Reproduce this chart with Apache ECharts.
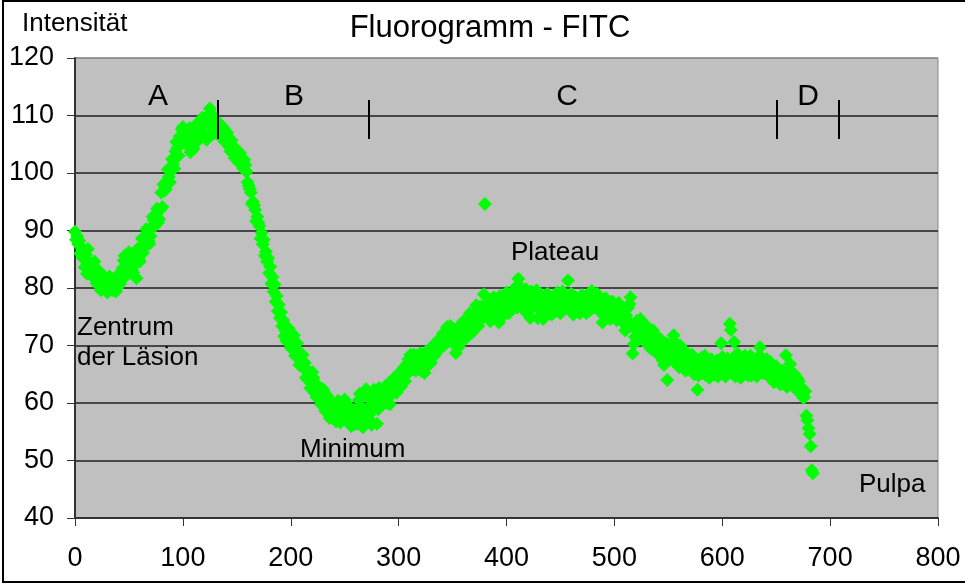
<!DOCTYPE html>
<html>
<head>
<meta charset="utf-8">
<script src="https://cdn.jsdelivr.net/npm/echarts@6/dist/echarts.min.js"></script>
<style>
html,body{margin:0;padding:0;background:#fff;}
#chart{width:965px;height:585px;}
</style>
</head>
<body>
<div id="chart"></div>
<script>
// ---- data ----
var titleText = 'Fluorogramm - FITC';
var yAxisName = 'Intensität';
var xTicks = [0, 100, 200, 300, 400, 500, 600, 700, 800];
var yTicks = [40, 50, 60, 70, 80, 90, 100, 110, 120];

var positions = [
  0,2,4,6,8,10,11,13,15,17,19,21,23,25,27,29,31,33,35,37,39,41,43,45,47,49,51,53,55,57,59,
  61,63,65,67,69,71,73,75,77,79,81,83,85,87,89,91,93,95,97,99,101,103,105,107,109,111,113,115,117,119,
  121,123,125,127,129,131,133,135,137,139,141,143,145,147,149,151,153,155,157,159,161,163,165,167,169,
  171,173,175,177,179,181,183,185,187,189,191,193,195,197,199,201,203,205,207,209,211,213,215,217,219,
  221,223,225,227,229,231,233,235,237,239,241,243,245,247,249,251,253,255,257,259,261,263,265,267,269,
  271,273,275,277,279,281,283,285,287,289,291,293,295,297,299,301,303,305,307,309,311,313,315,317,319,
  321,323,325,327,329,331,333,335,337,339,341,343,345,347,349,351,353,355,357,359,361,363,365,367,369,
  371,373,375,377,379,380,381,383,385,387,389,391,393,395,397,399,401,403,405,407,409,411,413,415,417,419,
  421,423,425,427,429,431,433,435,437,439,441,443,445,447,449,451,453,455,457,459,461,463,465,467,469,
  471,473,475,477,479,481,483,485,487,489,491,493,495,497,499,501,503,505,507,509,511,513,515,517,519,
  521,523,525,527,529,531,533,535,537,539,541,543,545,547,549,551,553,555,557,559,561,563,565,567,569,
  571,573,575,577,579,581,583,585,587,589,591,593,595,597,599,601,603,605,607,608,609,611,613,615,617,619,
  621,623,625,627,629,631,633,635,637,639,641,643,645,647,649,651,653,655,657,659,661,663,665,667,669,
  671,673,675,677,678,679,680,681,682,683,684
];
var intensity = [
  89.8,89.0,88.2,87.0,86.5,85.8,82.5,84.5,82.8,83.5,81.8,82.6,80.5,81.2,79.8,80.9,80.2,81.0,79.6,80.4,80.1,81.3,82.5,84.8,83.6,85.2,84.3,83.1,84.0,81.7,85.0,
  87.3,86.1,88.4,89.5,87.7,90.6,91.8,92.6,91.4,93.6,94.1,96.9,98.6,99.3,100.4,101.5,103.8,104.4,106.4,107.6,105.8,107.1,106.2,103.6,105.5,106.8,107.6,106.5,108.0,108.8,
  106.2,110.0,111.2,109.4,107.5,108.5,107.6,108.2,107.2,105.4,107.0,104.6,105.7,103.4,104.2,102.8,103.5,101.6,102.3,100.2,97.8,96.6,95.0,93.6,92.4,
  90.8,89.6,88.4,86.3,85.2,83.7,81.9,80.6,78.6,77.1,75.8,74.4,72.6,71.3,72.0,70.6,71.8,69.4,68.6,67.8,68.4,67.0,65.8,65.0,63.6,
  64.4,62.4,63.1,61.5,60.8,61.9,59.6,60.4,58.8,60.0,57.6,59.2,58.4,57.0,59.7,58.1,56.8,58.6,57.5,56.3,59.0,60.5,57.9,55.8,58.4,
  61.2,59.5,56.2,62.3,60.3,58.9,61.7,60.8,62.2,60.0,63.3,61.4,64.2,62.8,63.6,65.3,64.0,66.2,65.1,67.6,68.4,66.4,67.8,68.2,66.8,
  65.6,67.3,68.9,66.5,69.4,68.0,70.2,69.1,71.0,70.3,72.1,71.4,73.2,72.0,70.6,71.8,68.7,72.6,71.0,73.4,72.3,74.0,72.8,74.9,73.6,
  75.3,76.1,74.5,75.8,78.9,94.6,77.2,76.4,74.2,76.9,75.4,77.8,74.0,76.6,78.0,75.9,77.3,76.2,79.0,78.4,80.2,81.6,79.5,77.4,78.8,75.6,
  77.9,79.4,76.8,78.2,74.8,77.5,76.2,78.6,77.0,75.8,78.0,76.6,77.8,79.2,76.4,77.6,78.8,76.9,81.3,78.4,76.5,77.7,75.9,78.1,76.8,
  77.9,76.3,78.7,77.3,79.5,76.6,78.2,77.0,75.8,74.0,76.9,77.6,75.4,76.2,77.5,75.1,76.4,74.7,75.9,73.8,75.2,76.6,78.4,68.6,71.5,
  74.3,72.4,73.6,71.2,72.8,70.8,72.2,70.4,71.6,69.6,68.4,70.2,67.4,69.0,64.0,68.2,70.6,71.8,69.4,67.6,70.0,68.4,66.8,68.8,67.2,
  65.8,67.5,66.2,62.3,65.4,67.9,66.0,64.8,67.0,65.6,66.6,64.9,67.4,65.8,70.4,66.2,64.6,67.8,73.8,72.7,66.4,70.6,65.2,67.2,64.4,66.8,
  68.2,65.4,67.6,64.8,66.9,65.6,68.0,69.7,67.2,66.0,67.6,65.4,66.6,64.6,65.8,63.8,65.2,64.2,63.4,68.3,64.0,66.8,63.2,65.0,62.6,
  63.8,61.6,60.9,62.0,57.8,57.0,55.6,54.6,52.5,48.3,47.8
];

// further readings in between, as [position, intensity]
var extraReadings = [
  [1,88.4],[3,87.6],[5,86.0],[7,85.2],[9,83.6],[12,86.8],[14,83.2],[16,82.0],[18,84.6],[20,80.8],
  [22,83.0],[24,79.6],[26,82.2],[28,80.3],[30,79.2],[32,82.0],[34,80.6],[36,81.5],[38,79.4],[40,82.3],
  [42,80.8],[44,83.4],[46,85.6],[48,82.2],[50,86.2],[52,85.6],[54,82.6],[56,85.4],[58,86.8],[60,84.6],
  [62,88.6],[64,87.0],[66,90.2],[68,88.2],[70,89.0],[72,92.4],[74,90.8],[76,93.8],[78,92.0],[80,96.6],
  [82,98.0],[84,97.2],[86,100.6],[88,98.4],[90,102.4],[92,100.8],[94,105.4],[96,103.0],[98,105.2],[100,108.0],
  [102,106.8],[104,104.8],[106,107.8],[108,106.0],[110,104.2],[112,108.4],[114,105.6],[116,107.0],[118,109.6],[120,106.8],
  [122,105.8],[124,108.6],[126,110.4],[128,106.8],[130,109.2],[132,106.8],[134,108.6],[136,106.2],[138,107.8],[140,106.0],
  [142,105.2],[144,103.8],[146,104.8],[148,102.6],[150,103.6],[152,101.8],[154,102.8],[156,100.8],[158,101.4],[160,98.4],
  [162,97.2],[164,94.6],[166,94.4],[168,91.6],[170,91.4],[172,88.6],[174,87.6],[176,85.6],[178,84.6],[180,82.6],
  [182,80.8],[184,79.4],[186,77.6],[188,76.0],[190,74.8],[192,73.4],[194,71.6],[196,70.8],[198,73.0],[200,69.6],
  [202,70.0],[204,68.2],[206,70.4],[208,66.6],[210,67.4],[212,66.0],[214,64.4],[216,64.0],[218,62.6],[220,65.4],
  [222,61.8],[224,61.0],[226,62.2],[228,59.8],[230,62.4],[232,58.6],[234,61.2],[236,57.4],[238,59.6],[240,58.6],
  [242,56.8],[244,60.4],[246,56.6],[248,58.0],[250,60.6],[252,57.2],[254,59.4],[256,56.0],[258,58.2],[260,57.6],
  [262,56.4],[264,61.6],[266,59.2],[268,57.0],[270,62.4],[272,57.2],[274,60.6],[276,58.6],[278,61.4],[280,56.4],
  [282,62.6],[284,59.6],[286,61.0],[288,63.0],[290,61.8],[292,59.8],[294,62.4],[296,63.8],[298,61.8],[300,64.6],
  [302,62.8],[304,65.6],[306,63.8],[308,66.8],[310,65.4],[312,67.2],[314,68.4],[316,65.6],[318,67.0],[320,68.6],
  [322,66.2],[324,65.2],[326,67.8],[328,68.6],[330,67.0],[332,69.2],[334,68.4],[336,70.4],[338,69.4],[340,71.2],
  [342,70.0],[344,72.6],[346,70.8],[348,73.4],[350,72.2],[352,70.2],[354,73.0],[356,69.8],[358,72.0],[360,74.2],
  [362,71.2],[364,73.2],[366,75.6],[368,72.2],[370,74.6],[372,77.0],[374,73.4],[376,76.8],[378,74.8],[382,75.6],
  [384,78.0],[386,75.4],[388,78.4],[390,74.6],[392,76.4],[394,78.6],[396,75.0],[398,77.0],[400,79.2],[402,75.6],
  [404,78.0],[406,77.0],[408,79.8],[410,76.6],[412,80.4],[414,78.4],[416,76.2],[418,79.8],[420,77.0],[422,74.8],
  [424,78.0],[426,77.6],[428,79.6],[430,76.4],[432,78.6],[434,74.6],[436,77.2],[438,79.0],[440,76.8],[442,75.4],
  [444,78.6],[446,76.0],[448,78.0],[450,75.6],[452,79.4],[454,77.2],[456,78.4],[458,76.4],[460,79.0],[462,75.4],
  [464,78.4],[466,77.0],[468,75.6],[470,78.8],[472,77.4],[474,75.6],[476,79.0],[478,76.2],[480,78.6],[482,77.4],
  [484,79.0],[486,76.4],[488,77.4],[490,75.4],[492,78.2],[494,76.6],[496,74.6],[498,77.6],[500,76.0],[502,74.4],
  [504,77.4],[506,76.0],[508,75.4],[510,72.6],[512,74.4],[514,77.2],[516,73.4],[518,70.2],[520,73.0],[522,71.6],
  [524,74.6],[526,72.2],[528,70.6],[530,73.4],[532,71.4],[534,69.4],[536,72.6],[538,70.6],[540,68.6],[542,71.2],
  [544,69.4],[546,66.6],[548,70.4],[550,67.6],[552,69.2],[554,67.4],[556,70.6],[558,68.4],[560,66.2],[562,69.4],
  [564,67.6],[566,65.6],[568,68.0],[570,66.4],[572,68.4],[574,65.0],[576,67.2],[578,64.8],[580,66.2],[582,65.2],
  [584,68.2],[586,65.8],[588,64.4],[590,67.6],[592,65.4],[594,66.2],[596,64.6],[598,66.8],[600,68.0],[602,65.6],
  [604,67.0],[606,65.4],[610,67.6],[612,64.6],[614,68.6],[616,66.0],[618,67.8],[620,65.0],[622,66.4],[624,64.8],
  [626,68.2],[628,66.2],[630,67.4],[632,64.6],[634,66.4],[636,68.0],[638,65.2],[640,66.8],[642,64.8],[644,67.2],
  [646,65.2],[648,63.6],[650,66.4],[652,64.8],[654,63.2],[656,65.6],[658,64.4],[660,62.8],[662,65.6],[664,63.8],
  [666,64.8],[668,62.4],[670,64.2],[672,61.8],[674,62.6],[676,61.0]
];

// zone boundaries (x) and the intensity span of the boundary strokes
var zoneBounds = [132.5, 272.5, 650.6, 708];
var zoneStrokeSpan = [105.9, 112.7];
var zoneNames = ['A', 'B', 'C', 'D'];

var FONT = '"Liberation Sans", Arial, sans-serif';

var points = positions.map(function (x, i) { return [x, intensity[i]]; }).concat(extraReadings);

var chart = echarts.init(document.getElementById('chart'), null, {renderer: 'canvas'});

var gridColors = yTicks.map(function (v, i) { return i === yTicks.length - 1 ? '#8a8a8a' : '#1e1e1e'; });

var option = {
  animation: false,
  backgroundColor: '#ffffff',
  grid: {
    left: 75, top: 58, width: 863, height: 460,
    show: true, backgroundColor: '#c0c0c0', borderColor: '#8a8a8a', borderWidth: 1
  },
  xAxis: {
    type: 'value', min: 0, max: 800, interval: 100,
    axisLine: {show: true, onZero: false, lineStyle: {color: '#333', width: 2}},
    axisTick: {show: true, inside: false, length: 8, lineStyle: {color: '#333', width: 1}},
    axisLabel: {color: '#000', fontFamily: FONT, fontSize: 27, margin: 27},
    splitLine: {show: false}
  },
  yAxis: {
    type: 'value', min: 40, max: 120, interval: 10,
    axisLine: {show: true, onZero: false, lineStyle: {color: '#333', width: 2}},
    axisTick: {show: true, inside: false, length: 8, lineStyle: {color: '#333', width: 1}},
    axisLabel: {color: '#000', fontFamily: FONT, fontSize: 27, margin: 21},
    splitLine: {show: true, lineStyle: {color: gridColors, width: 1.5}}
  },
  series: [
    {
      type: 'scatter',
      data: points,
      symbol: 'diamond',
      symbolSize: 14,
      itemStyle: {color: '#00ff00', opacity: 1},
      emphasis: {disabled: true},
      z: 3
    },
    {
      type: 'line',
      data: [],
      markLine: {
        silent: true,
        symbol: 'none',
        label: {show: false},
        lineStyle: {color: '#000', width: 2, type: 'solid'},
        data: zoneBounds.map(function (x) {
          return [{coord: [x, zoneStrokeSpan[0]]}, {coord: [x, zoneStrokeSpan[1]]}];
        })
      },
      z: 4
    }
  ],
  graphic: [
    {type: 'rect', shape: {x: 3, y: 1, width: 975, height: 581}, style: {fill: 'none', stroke: '#000', lineWidth: 2}, silent: true, z: 100},
    {type: 'text', x: 490, y: 28, style: {text: titleText, font: '31px ' + FONT, fill: '#000', textAlign: 'center', textVerticalAlign: 'middle'}, z: 100},
    {type: 'text', x: 22, y: 24, style: {text: yAxisName, font: '26px ' + FONT, fill: '#000', textAlign: 'left', textVerticalAlign: 'middle'}, z: 100},
    {type: 'text', x: 158, y: 97, style: {text: zoneNames[0], font: '30px ' + FONT, fill: '#000', textAlign: 'center', textVerticalAlign: 'middle'}, z: 100},
    {type: 'text', x: 294, y: 97, style: {text: zoneNames[1], font: '30px ' + FONT, fill: '#000', textAlign: 'center', textVerticalAlign: 'middle'}, z: 100},
    {type: 'text', x: 567, y: 97, style: {text: zoneNames[2], font: '30px ' + FONT, fill: '#000', textAlign: 'center', textVerticalAlign: 'middle'}, z: 100},
    {type: 'text', x: 808, y: 97, style: {text: zoneNames[3], font: '30px ' + FONT, fill: '#000', textAlign: 'center', textVerticalAlign: 'middle'}, z: 100},
    {type: 'text', x: 77, y: 328, style: {text: 'Zentrum', font: '26px ' + FONT, fill: '#000', textAlign: 'left', textVerticalAlign: 'middle'}, z: 100},
    {type: 'text', x: 77, y: 358, style: {text: 'der Läsion', font: '26px ' + FONT, fill: '#000', textAlign: 'left', textVerticalAlign: 'middle'}, z: 100},
    {type: 'text', x: 300, y: 450, style: {text: 'Minimum', font: '26px ' + FONT, fill: '#000', textAlign: 'left', textVerticalAlign: 'middle'}, z: 100},
    {type: 'text', x: 511, y: 253, style: {text: 'Plateau', font: '26px ' + FONT, fill: '#000', textAlign: 'left', textVerticalAlign: 'middle'}, z: 100},
    {type: 'text', x: 859, y: 485, style: {text: 'Pulpa', font: '26px ' + FONT, fill: '#000', textAlign: 'left', textVerticalAlign: 'middle'}, z: 100}
  ]
};
chart.setOption(option);
</script>
</body>
</html>
